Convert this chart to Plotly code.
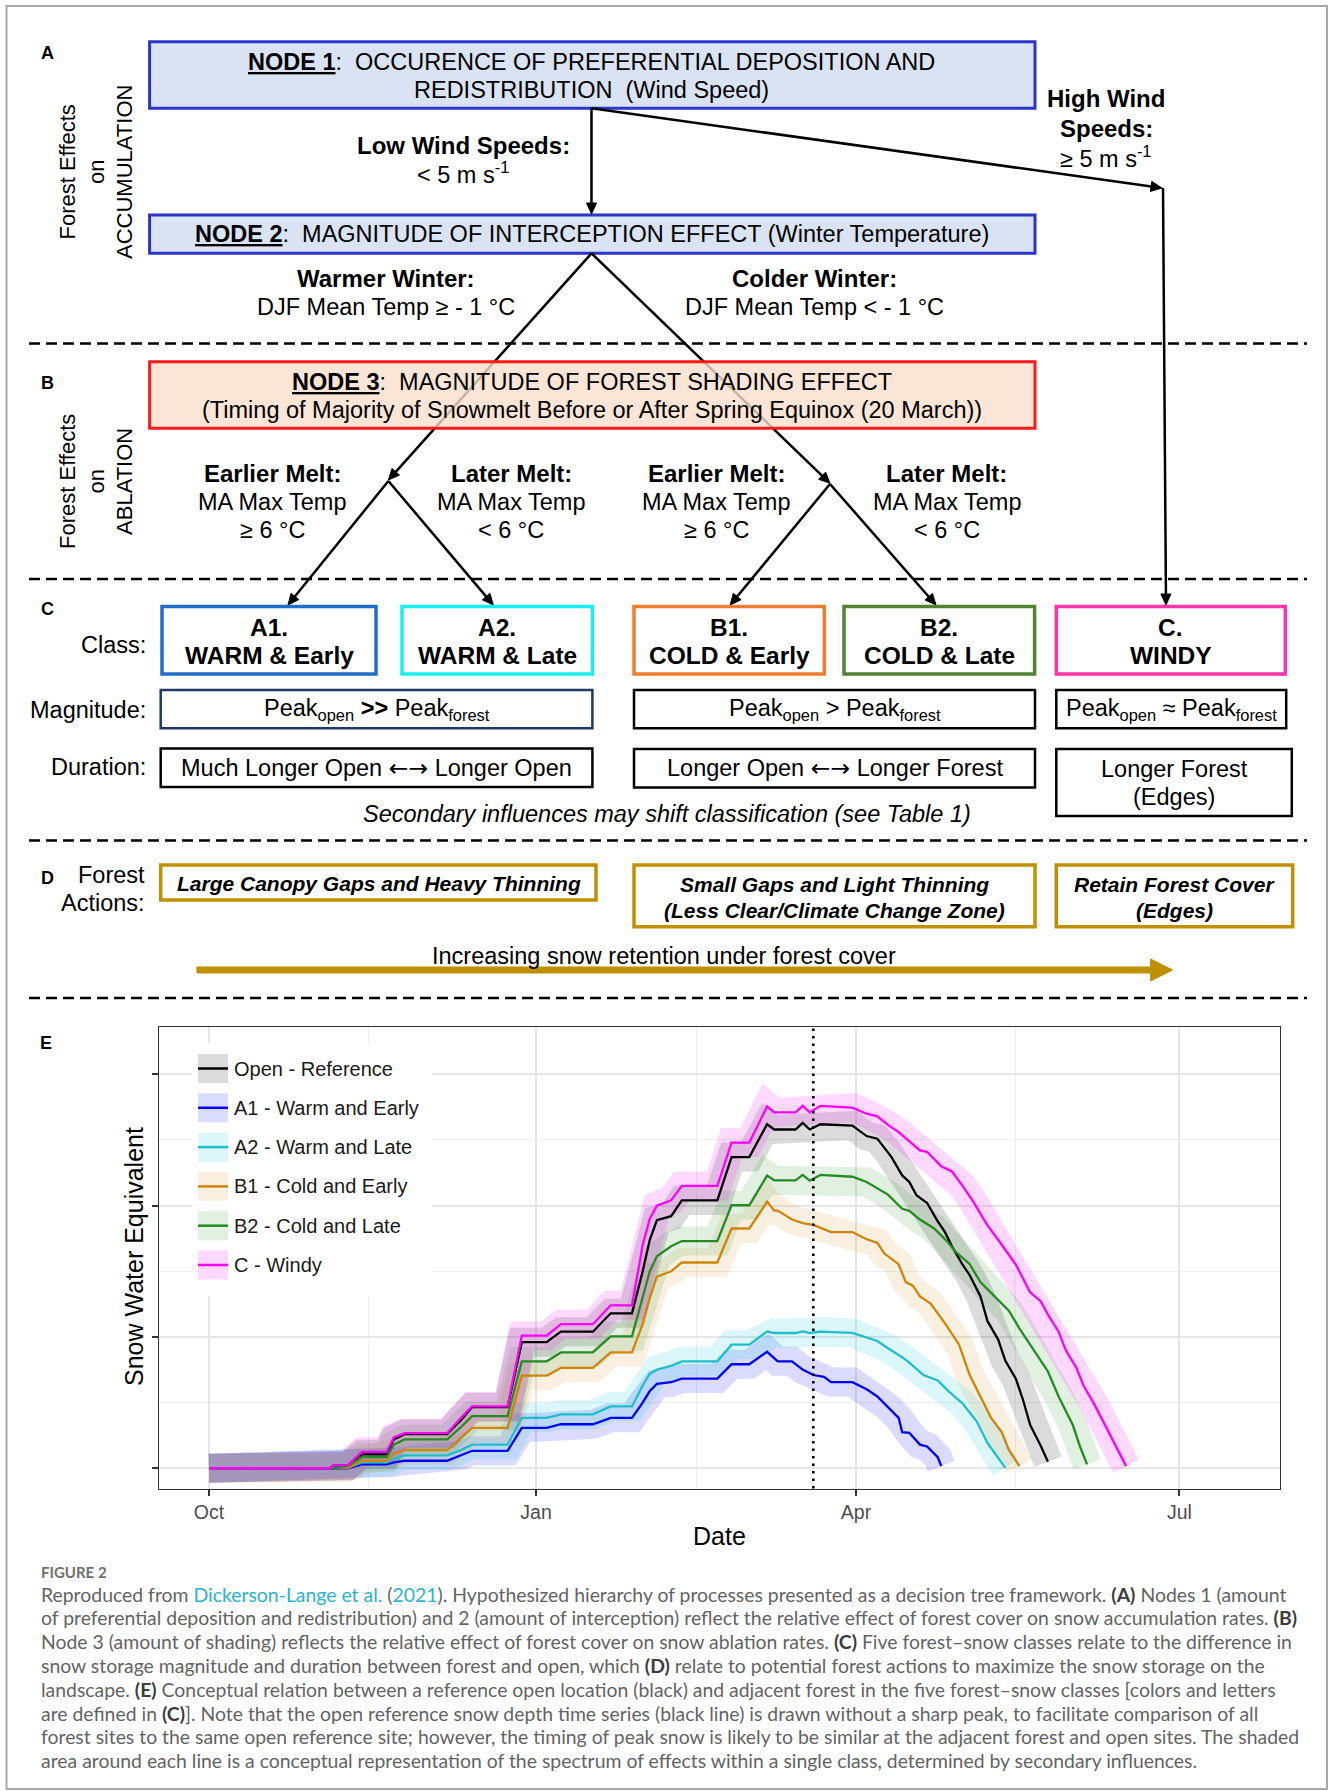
import math
import pandas as pd
import plotly.graph_objects as go

W, H = 1330, 1791
SEASON_START = pd.Timestamp("2018-10-01")   # day 0 of the water year

# ---------------------------------------------------------------- chart data
# day of water year (days since 1 Oct) and conceptual SWE (relative units)
series_names = ["Open - Reference", "A1 - Warm and Early", "A2 - Warm and Late",
                "B1 - Cold and Early", "B2 - Cold and Late", "C - Windy"]
line_colors = ["#000000", "#0000ff", "#1dbfca", "#cf8506", "#228b22", "#ff00ff"]
band_colors = ["rgba(0,0,0,0.14)", "rgba(0,0,255,0.14)", "rgba(0,200,210,0.14)",
               "rgba(215,135,10,0.12)", "rgba(34,139,34,0.13)", "rgba(255,0,255,0.15)"]

open_days = [0, 34, 35, 39, 43, 50, 52, 55, 67, 71, 74, 84, 88, 95, 99, 108, 113, 119,
             122, 124, 126, 130, 133, 143, 147, 152, 157, 159, 165, 167, 169, 172, 181,
             185, 188, 191, 192, 195, 197, 199, 202, 205, 207, 209, 212, 214, 217, 219,
             222, 224, 227, 229, 231, 234, 236]
open_swe = [0, 0, 2, 2, 10.6, 10.6, 22, 26, 26, 37, 46.5, 46.5, 96, 96, 104, 104, 118, 118,
            150, 174, 189, 192, 204, 204, 237, 237, 262, 258, 258, 263, 258, 262, 261,
            253, 251, 241, 237, 223, 218, 208, 202, 188, 180, 169, 155, 147, 131, 112,
            98, 82, 68, 52, 33, 17, 5]

a1_days = [0, 35, 39, 43, 50, 52, 55, 67, 71, 74, 84, 88, 95, 99, 108, 113, 119,
           122, 124, 126, 130, 133, 143, 147, 152, 157, 160, 164, 167, 170, 173, 175, 181,
           183, 185, 188, 191, 194, 195, 197, 200, 202, 205, 206]
a1_swe = [0, 0, 0, 3, 3, 4.5, 5.7, 5.7, 9.8, 13.3, 13.3, 30.7, 30.7, 33.5, 33.5, 38.4, 38.4,
          50, 58.8, 64.2, 65.5, 68.3, 68.3, 79.2, 79.2, 88.7, 81.4, 81.4, 75.1, 71, 69.6, 65.6, 65.6,
          62.9, 60.1, 54.7, 46.5, 38.4, 27.5, 27, 18, 16.6, 8.4, 1.6]

a2_days = [0, 35, 39, 43, 50, 52, 55, 67, 71, 74, 84, 88, 95, 99, 108, 113, 119,
           122, 124, 126, 130, 133, 143, 147, 152, 157, 159, 165, 167, 169, 172, 181,
           185, 188, 191, 195, 197, 201, 205, 208, 212, 216, 219, 222, 224]
a2_swe = [0, 0, 0.3, 4.4, 4.4, 7, 9.8, 9.8, 14, 18, 18, 38.4, 38.4, 41, 41, 47.1, 47.1,
          63, 72, 75.1, 78, 81.4, 81.4, 94.1, 94.1, 104.2, 103, 103, 104.2, 103, 104, 103.1,
          99.6, 96.9, 91.4, 84.6, 80.5, 71, 66.9, 58.8, 49.3, 35.6, 19.3, 8.4, 0.3]

b1_days = [0, 35, 39, 43, 50, 52, 55, 67, 71, 74, 84, 88, 95, 99, 108, 113, 119,
           122, 124, 126, 130, 133, 143, 147, 152, 157, 159, 160, 164, 167, 170, 175, 181,
           185, 188, 190, 194, 196, 198, 200, 203, 207, 211, 214, 217, 220, 223, 225, 228]
b1_swe = [0, 0, 0.3, 5.7, 5.7, 11.2, 13.9, 13.9, 23.4, 30.7, 30.7, 70.5, 70.5, 76.5, 76.5, 88.2, 88.2,
          110, 130, 145.9, 150, 156.7, 156.7, 182.6, 182.6, 203, 196.2, 196.2, 189.4, 186.7, 185.3, 179.9, 179.9,
          174.4, 171.7, 163.5, 155.4, 141.8, 139, 130.9, 125.4, 110.5, 94.1, 71, 54.7, 38.4, 27.5, 13.9, 1.6]

b2_days = [0, 35, 39, 43, 50, 52, 55, 67, 71, 74, 84, 88, 95, 99, 108, 113, 119,
           122, 124, 126, 130, 133, 143, 147, 152, 157, 159, 165, 167, 169, 172, 181,
           185, 191, 195, 197, 200, 204, 208, 210, 214, 217, 221, 225, 228, 232, 236, 239, 243, 245, 247]
b2_swe = [0, 0, 1.6, 8.4, 8.4, 18, 22, 22, 31.6, 39.7, 39.7, 81.4, 81.4, 88.2, 88.2, 100.4, 100.4,
          130, 150, 161.4, 169, 173, 173, 200.3, 200.3, 222.9, 219.3, 219.3, 223.4, 219, 223.4, 222,
          218, 208.4, 197.6, 196, 189.4, 182.6, 171.7, 164.9, 155.4, 141.8, 130.9, 120, 106.4, 90, 73.7,
          54.7, 32.9, 16.6, 3]

c_days = [0, 34, 35, 39, 43, 50, 52, 55, 67, 71, 74, 84, 88, 95, 99, 108, 113, 119,
          122, 124, 126, 130, 133, 143, 147, 152, 157, 159, 165, 167, 169, 172, 181,
          185, 188, 191, 194, 197, 200, 202, 206, 209, 212, 215, 219, 222, 224, 227, 229,
          231, 234, 236, 239, 241, 244, 246, 249, 252, 254, 256, 258]
c_swe = [0, 0, 2.2, 2.2, 12.5, 12.5, 23.4, 26.7, 26.7, 38.9, 47.1, 47.1, 101, 101, 109.7, 109.7, 124.1, 124.1,
         170, 190, 200, 204, 215, 215, 248, 248, 275.6, 271, 271, 276, 271, 276, 274.6,
         270, 268, 261.5, 256, 249, 242, 241, 230, 226, 215, 203, 185, 174, 166, 155, 144.5,
         134, 127, 117, 104, 90, 76.5, 63, 49, 33, 22, 11, 1.6]

series_days = [open_days, a1_days, a2_days, b1_days, b2_days, c_days]
series_swe = [open_swe, a1_swe, a2_swe, b1_swe, b2_swe, c_swe]

tick_dates = ["2018-10-01", "2019-01-01", "2019-04-01", "2019-07-01"]
tick_labels = ["Oct", "Jan", "Apr", "Jul"]
minor_dates = ["2018-11-15", "2019-02-15", "2019-05-16"]
equinox_date = "2019-03-20"
swe_ticks = [0, 100, 200, 300]
swe_minor = [50, 150, 250]
x_range_days = [-13.95, 301.2]
swe_range = [-15.5, 336.2]

# ---------------------------------------------------------------- helpers
SANS = "Liberation Sans, Arial, sans-serif"
CAPTION_FONT = "Lato, Open Sans, sans-serif"
shapes, annotations = [], []


def to_date(days):
    return [(SEASON_START + pd.Timedelta(days=float(d))).strftime("%Y-%m-%d %H:%M") for d in days]


def rect(x0, y0, x1, y1, color, width=3, fill="rgba(0,0,0,0)"):
    shapes.append(dict(type="rect", xref="x2", yref="y2", x0=x0, y0=y0, x1=x1, y1=y1,
                       line=dict(color=color, width=width), fillcolor=fill, layer="above"))


def seg(x0, y0, x1, y1, color="black", width=2.5, dash="solid"):
    shapes.append(dict(type="line", xref="x2", yref="y2", x0=x0, y0=y0, x1=x1, y1=y1,
                       line=dict(color=color, width=width, dash=dash), layer="above"))


def arrow(x0, y0, x1, y1, color="black", width=2.5, head_len=11, head_half=5):
    dx, dy = x1 - x0, y1 - y0
    length = math.hypot(dx, dy)
    ux, uy = dx / length, dy / length
    bx, by = x1 - ux * head_len, y1 - uy * head_len
    seg(x0, y0, bx + ux * 2, by + uy * 2, color, width)
    px, py = -uy, ux
    path = (f"M {x1:.1f},{y1:.1f} L {bx + px * head_half:.1f},{by + py * head_half:.1f} "
            f"L {bx - px * head_half:.1f},{by - py * head_half:.1f} Z")
    shapes.append(dict(type="path", xref="x2", yref="y2", path=path, fillcolor=color,
                       line=dict(color=color, width=1), layer="above"))


def text(x, y, s, size=23.5, color="black", xanchor="center", angle=0, family=SANS):
    annotations.append(dict(xref="x2", yref="y2", x=x, y=y, text=s, showarrow=False,
                            xanchor=xanchor, yanchor="middle", textangle=angle,
                            font=dict(family=family, size=size, color=color)))


NB = "\u00a0"
BOTH_WAYS = '<span style="font-family:DejaVu Sans">\u2190\u2192</span>'

# ---------------------------------------------------------------- outer frame + separators
rect(6.5, 6, 1327, 1789, "#a8a8a8", width=2)
for yy in [343.5, 579, 840.5, 998]:
    seg(29, yy, 1307, yy, "black", 2.5, "11px,6px")

# ---------------------------------------------------------------- panel A
text(47, 53, "<b>A</b>", size=18)
text(96, 172, "Forest Effects<br>on<br>ACCUMULATION", size=22, angle=-90)

rect(149.6, 41.7, 1035, 108.3, "#2b35c8", 3, "#dae3f3")
text(591, 61.5, f"<b><u>NODE 1</u></b>:{NB} OCCURENCE OF PREFERENTIAL DEPOSITION AND")
text(591, 89.5, f"REDISTRIBUTION{NB} (Wind Speed)")

rect(149.6, 215, 1035, 253.3, "#2b35c8", 3, "#dae3f3")
text(592, 233.5, f"<b><u>NODE 2</u></b>:{NB} MAGNITUDE OF INTERCEPTION EFFECT (Winter Temperature)")

arrow(591.5, 108.3, 591.5, 214)
text(463, 145, "<b>Low Wind Speeds:</b>", size=24)
text(463, 173, "&lt; 5 m s<sup>-1</sup>", size=23.5)

arrow(591.5, 108.3, 1162, 188)
arrow(1163, 188, 1166, 605)
text(1106, 98, "<b>High Wind</b>", size=24)
text(1106, 128, "<b>Speeds:</b>", size=24)
text(1106, 157, "≥ 5 m s<sup>-1</sup>", size=23.5)

text(385.5, 278, "<b>Warmer Winter:</b>", size=24)
text(385.5, 306.5, "DJF Mean Temp ≥ - 1 °C", size=23.5)
text(814, 278, "<b>Colder Winter:</b>", size=24)
text(814, 306.5, "DJF Mean Temp &lt; - 1 °C", size=23.5)

# node 2 branches (drawn before node 3 so the box veils them)
arrow(591.5, 253.3, 388.4, 480)
arrow(591.5, 253.3, 830, 483.3)

# ---------------------------------------------------------------- panel B
text(47, 383, "<b>B</b>", size=18)
text(96, 482, "Forest Effects<br>on<br>ABLATION", size=22, angle=-90)
rect(149.6, 361.7, 1035, 428.3, "#ff1a1a", 3, "rgba(250,222,204,0.8)")
text(592, 381.5, f"<b><u>NODE 3</u></b>:{NB} MAGNITUDE OF FOREST SHADING EFFECT")
text(592, 410, "(Timing of Majority of Snowmelt Before or After Spring Equinox (20 March))")

melt_labels = [(272, "Earlier Melt:", "≥ 6 °C"), (511, "Later Melt:", "&lt; 6 °C"),
               (716, "Earlier Melt:", "≥ 6 °C"), (946.5, "Later Melt:", "&lt; 6 °C")]
for cx, head, thr in melt_labels:
    text(cx, 473, f"<b>{head}</b>", size=24)
    text(cx, 501.5, "MA Max Temp", size=23.5)
    text(cx, 529.5, thr, size=23.5)

for apex, tips in [((388.4, 481), [(288, 605), (493.3, 605)]),
                   ((830, 484), [(730.2, 605), (936, 605)])]:
    for tip in tips:
        arrow(apex[0], apex[1], tip[0], tip[1])

# ---------------------------------------------------------------- panel C
text(47, 609, "<b>C</b>", size=18)
text(148, 645, "Class:", size=23.5, xanchor="right")
text(148, 709.5, "Magnitude:", size=23.5, xanchor="right")
text(148, 767, "Duration:", size=23.5, xanchor="right")

class_boxes = [(162, 376, "#1f6fc8", "A1.", "WARM &amp; Early"),
               (402, 592.4, "#19eef2", "A2.", "WARM &amp; Late"),
               (634, 824.3, "#ed7d31", "B1.", "COLD &amp; Early"),
               (844, 1034.6, "#548235", "B2.", "COLD &amp; Late"),
               (1056.3, 1285.3, "#ff33aa", "C.", "WINDY")]
for x0, x1, col, code, name in class_boxes:
    rect(x0, 606.5, x1, 674, col, 3.5)
    cx = (x0 + x1) / 2
    text(cx, 627.5, f"<b>{code}</b>", size=24.5)
    text(cx, 655, f"<b>{name}</b>", size=24.5)

rect(160.7, 690, 592.4, 728.3, "#203864", 2.5)
text(376.5, 709.5, "Peak<sub>open</sub> <b>&gt;&gt;</b> Peak<sub>forest</sub>")
rect(634, 690, 1035, 728.3, "black", 2.5)
text(834.5, 709.5, "Peak<sub>open</sub> &gt; Peak<sub>forest</sub>")
rect(1056.3, 690, 1286.2, 728.3, "black", 2.5)
text(1171, 709.5, "Peak<sub>open</sub> ≈ Peak<sub>forest</sub>")

rect(160.7, 748.5, 592.4, 787, "black", 2.5)
text(376, 767.5, f"Much Longer Open {BOTH_WAYS} Longer Open")
rect(634, 749, 1035, 787.5, "black", 2.5)
text(834.5, 768, f"Longer Open {BOTH_WAYS} Longer Forest")
rect(1056.3, 749, 1291.8, 816, "black", 2.5)
text(1174, 768.5, "Longer Forest")
text(1174, 796.5, "(Edges)")

text(667, 814, "<i>Secondary influences may shift classification (see Table 1)</i>")

# ---------------------------------------------------------------- panel D
GOLD = "#bf9000"
text(47, 878, "<b>D</b>", size=18)
text(147, 875, "Forest", size=23.5, xanchor="right")
text(147, 903, "Actions:", size=23.5, xanchor="right")
rect(160.7, 865, 596, 900, GOLD, 3.5)
text(378.5, 883, "<b><i>Large Canopy Gaps and Heavy Thinning</i></b>", size=21)
rect(634, 865, 1035, 926.7, GOLD, 3.5)
text(834.5, 884, "<b><i>Small Gaps and Light Thinning</i></b>", size=21)
text(834.5, 910, "<b><i>(Less Clear/Climate Change Zone)</i></b>", size=21)
rect(1056.3, 865, 1292.7, 926.7, GOLD, 3.5)
text(1174.5, 884, "<b><i>Retain Forest Cover</i></b>", size=21)
text(1174.5, 910, "<b><i>(Edges)</i></b>", size=21)

text(664, 955.5, "Increasing snow retention under forest cover")
arrow(196.4, 970, 1172.6, 970, GOLD, width=7, head_len=22, head_half=11)

# ---------------------------------------------------------------- panel E (chart)
text(46, 1043, "<b>E</b>", size=18)

fig = go.Figure()
for days, swe, band in zip(series_days, series_swe, band_colors):
    fig.add_trace(go.Scatter(x=to_date(days), y=swe, mode="lines", hoverinfo="skip",
                             line=dict(color=band, width=29), showlegend=False))
for name, days, swe, col in zip(series_names, series_days, series_swe, line_colors):
    fig.add_trace(go.Scatter(x=to_date(days), y=swe, mode="lines", name=name,
                             line=dict(color=col, width=2.3), showlegend=False))

# equinox marker
shapes.append(dict(type="line", xref="x", yref="y domain", x0=equinox_date, x1=equinox_date,
                   y0=0, y1=1, line=dict(color="black", width=2.6, dash="2.5px,5px"), layer="above"))

# legend drawn in the panel's top-left corner
rect(192, 1043, 432, 1296, "rgba(0,0,0,0)", 0, "white")
for i, (name, col, band) in enumerate(zip(series_names, line_colors, band_colors)):
    cy = 1068.5 + 39.3 * i
    shapes.append(dict(type="rect", xref="x2", yref="y2", x0=198, x1=228, y0=cy - 14.5, y1=cy + 14.5,
                       line=dict(width=0), fillcolor=band, layer="above"))
    seg(198, cy, 228, cy, col, 2.5)
    text(232, cy, name, size=20, color="#1a1a1a", xanchor="left")

text(719.5, 1536, "Date", size=25)
text(134, 1257, "Snow Water Equivalent", size=25, angle=-90)

# ---------------------------------------------------------------- caption
LINK = "#2bb3cf"
CAP = "#636363"
EMPH = '<span style="color:#3c3c3c"><b>{}</b></span>'
text(39, 1571.5, "<b>FIGURE 2</b>", size=15, color="#6f6f6f", xanchor="left", family=CAPTION_FONT)
caption_lines = [
    f'Reproduced from <span style="color:{LINK}">Dickerson-Lange et al.</span> (<span style="color:{LINK}">2021</span>). '
    f'Hypothesized hierarchy of processes presented as a decision tree framework. {EMPH.format("(A)")} Nodes 1 (amount',
    'of preferential deposition and redistribution) and 2 (amount of interception) reflect the relative effect '
    f'of forest cover on snow accumulation rates. {EMPH.format("(B)")}',
    f'Node 3 (amount of shading) reflects the relative effect of forest cover on snow ablation rates. {EMPH.format("(C)")} '
    'Five forest\u2013snow classes relate to the difference in',
    f'snow storage magnitude and duration between forest and open, which {EMPH.format("(D)")} relate to potential forest '
    'actions to maximize the snow storage on the',
    f'landscape. {EMPH.format("(E)")} Conceptual relation between a reference open location (black) and adjacent forest '
    'in the five forest\u2013snow classes [colors and letters',
    f'are defined in {EMPH.format("(C)")}]. Note that the open reference snow depth time series (black line) is drawn '
    'without a sharp peak, to facilitate comparison of all',
    'forest sites to the same open reference site; however, the timing of peak snow is likely to be similar '
    'at the adjacent forest and open sites. The shaded',
    'area around each line is a conceptual representation of the spectrum of effects within a single class, '
    'determined by secondary influences.',
]
for i, line in enumerate(caption_lines):
    text(39, 1594 + 23.8 * i, line, size=19.4, color=CAP, xanchor="left", family=CAPTION_FONT)

# ---------------------------------------------------------------- layout
x0_px, x1_px, ytop_px, ybot_px = 159.4, 1279.7, 1026.8, 1488.6
fig.update_layout(
    width=W, height=H, margin=dict(l=0, r=0, t=0, b=0),
    paper_bgcolor="white", plot_bgcolor="rgba(0,0,0,0)", showlegend=False,
    xaxis=dict(domain=[x0_px / W, x1_px / W], anchor="y", type="date",
               range=to_date(x_range_days), tickmode="array", tickvals=tick_dates, ticktext=tick_labels,
               ticks="outside", ticklen=6, tickwidth=1.5, tickcolor="#333333",
               tickfont=dict(family=SANS, size=19.5, color="#4d4d4d"),
               showgrid=True, gridcolor="#e6e6e6", gridwidth=1.7,
               minor=dict(tickmode="array", tickvals=minor_dates, showgrid=True,
                          gridcolor="#eeeeee", gridwidth=1, ticks=""),
               showline=True, linecolor="#333333", linewidth=1.4, mirror=True, zeroline=False),
    yaxis=dict(domain=[1 - ybot_px / H, 1 - ytop_px / H], anchor="x", range=swe_range,
               tickmode="array", tickvals=swe_ticks, showticklabels=False,
               ticks="outside", ticklen=6, tickwidth=1.5, tickcolor="#333333",
               showgrid=True, gridcolor="#e6e6e6", gridwidth=1.7,
               minor=dict(tickmode="array", tickvals=swe_minor, showgrid=True,
                          gridcolor="#eeeeee", gridwidth=1, ticks=""),
               showline=True, linecolor="#333333", linewidth=1.4, mirror=True, zeroline=False),
    xaxis2=dict(domain=[0, 1], anchor="y2", range=[0, W], visible=False, fixedrange=True),
    yaxis2=dict(domain=[0, 1], anchor="x2", range=[H, 0], visible=False, fixedrange=True),
    shapes=shapes, annotations=annotations,
)

fig.write_html("out.html")
